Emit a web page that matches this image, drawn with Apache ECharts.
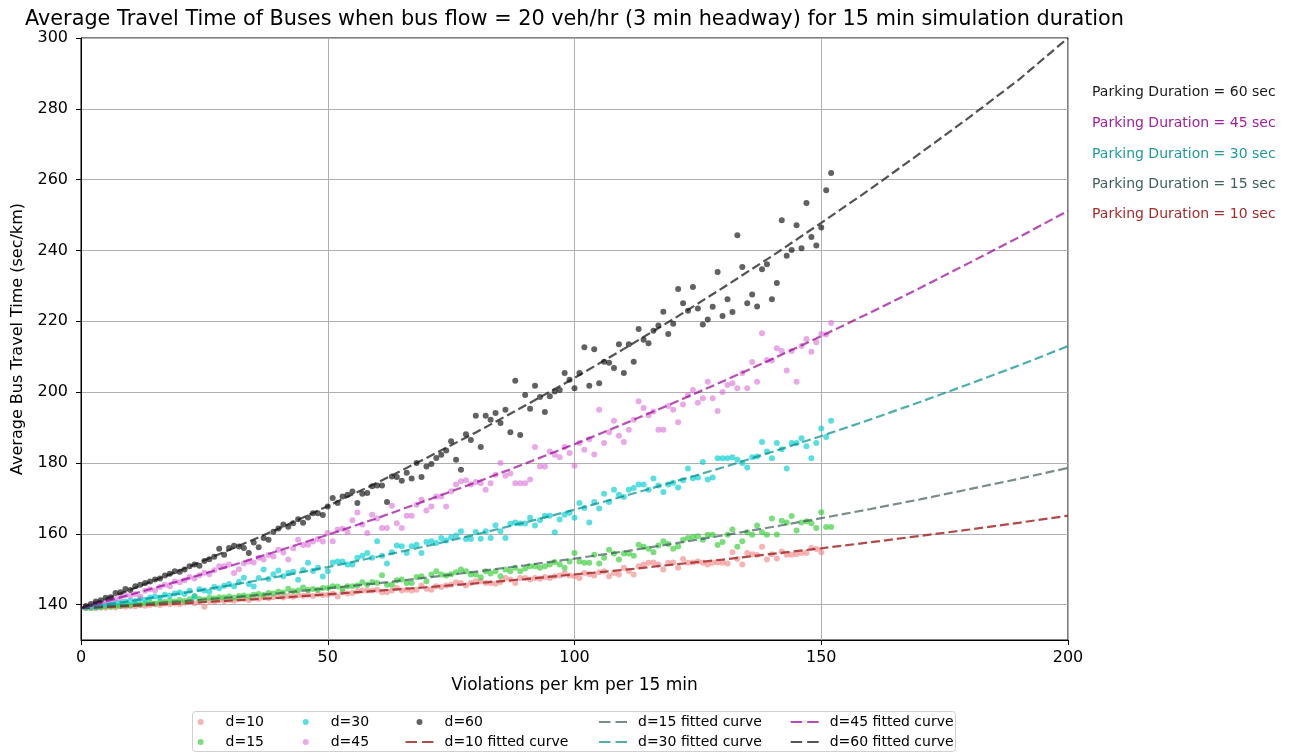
<!DOCTYPE html>
<html>
<head>
<meta charset="utf-8">
<script src="https://cdn.jsdelivr.net/npm/echarts@6/dist/echarts.min.js"></script>
<style>
html,body{margin:0;padding:0;background:#fff;}
#chart{width:1290px;height:753px;}
</style>
</head>
<body>
<div id="chart"></div>
<script>
// ---- data (x = violations per km per 15 min, starting at 1 and stepping by 1) ----
const d10 = [139.0,139.2,139.0,139.3,139.1,139.4,139.2,139.5,139.4,139.6,
139.5,139.8,139.7,139.9,140.1,139.9,140.3,140.1,140.4,140.2,
140.5,140.7,140.4,140.8,139.4,141.0,140.8,141.2,141.0,141.3,
141.1,141.5,141.6,141.3,141.8,141.6,142.0,141.8,142.1,142.3,
142.0,142.4,142.2,142.6,142.5,142.8,142.4,142.9,142.7,142.8,
143.1,142.3,143.5,143.1,143.3,143.8,144.0,144.0,144.0,144.2,
143.5,143.5,144.0,144.7,144.0,144.2,144.0,144.2,145.4,144.5,
144.2,145.2,145.0,145.4,145.6,146.3,146.1,145.4,146.1,146.6,
146.6,146.1,146.1,145.9,146.4,147.5,147.1,146.1,147.5,147.5,
147.1,147.5,147.3,147.8,147.5,148.0,148.2,148.9,148.2,148.0,
147.5,148.9,148.6,148.2,149.1,149.4,148.0,148.9,148.5,150.4,
149.4,148.5,150.8,151.3,151.8,151.9,151.3,149.9,151.8,151.9,
150.4,152.9,151.8,151.9,152.2,151.8,151.3,151.8,151.9,151.8,
151.6,154.8,152.9,151.3,154.6,154.2,154.0,156.3,152.7,154.2,
153.0,155.0,154.1,154.1,154.2,154.6,154.6,156.0,155.7,154.8];

const d15 = [139.1,139.0,139.3,139.2,139.5,139.4,139.7,139.6,139.9,139.8,
140.2,140.0,140.4,140.6,140.3,140.8,140.7,141.1,140.9,141.3,
141.0,141.5,142.4,141.6,141.4,141.9,141.7,142.1,142.0,142.3,
141.9,142.4,142.6,142.3,142.8,143.0,142.7,143.3,143.1,143.6,
143.4,144.5,143.8,144.0,144.8,144.1,144.4,144.2,144.7,144.7,
145.2,145.1,144.4,145.2,145.2,145.4,146.3,145.6,146.4,146.1,
148.3,145.6,145.6,146.9,147.1,146.1,146.1,147.8,148.0,146.6,
148.5,149.4,148.5,148.2,148.6,149.1,149.9,149.4,148.5,148.5,
147.7,149.4,148.8,149.4,148.0,149.9,149.4,150.4,149.4,150.2,
150.8,150.8,150.4,150.8,151.3,152.0,151.3,150.4,152.2,154.6,
152.2,151.8,151.8,154.1,151.6,153.2,155.5,154.4,152.7,154.4,
154.4,153.8,156.9,156.3,155.8,154.8,156.7,157.9,157.1,155.8,
156.4,158.3,158.8,159.1,159.3,158.3,159.7,159.7,156.8,157.7,
159.7,161.2,156.3,157.9,160.4,159.7,162.3,160.4,159.7,164.3,
159.8,163.7,163.2,165.0,160.9,163.2,163.5,163.0,161.6,166.1,
161.9,161.9];

const d30 = [139.2,139.4,139.3,139.8,140.0,140.1,140.6,140.5,140.9,141.1,
141.0,141.6,141.4,142.0,142.3,142.0,142.8,142.5,143.1,143.4,
143.0,143.9,142.2,144.3,144.0,143.6,145.0,144.6,145.3,145.8,
145.2,146.4,147.6,145.8,145.1,147.5,149.9,147.2,148.6,149.6,
148.0,148.9,149.3,147.0,149.8,151.8,149.5,150.4,147.9,149.4,
151.9,152.2,152.2,151.3,151.3,153.2,153.8,154.6,153.2,157.9,
153.8,151.6,154.8,156.7,156.5,154.6,156.5,156.9,154.6,157.7,
157.9,157.4,158.8,158.1,159.0,159.5,160.7,158.5,158.5,160.5,
158.6,160.7,158.8,162.4,160.7,158.8,162.8,163.2,162.9,162.9,
164.5,162.3,163.8,165.1,165.1,160.4,164.0,165.4,165.9,164.5,
168.7,167.3,163.2,169.0,167.1,171.3,169.0,172.4,171.0,170.4,
172.4,172.9,173.9,173.9,172.4,175.6,173.6,171.8,173.9,174.4,
173.1,175.1,178.4,175.7,175.9,180.3,175.3,175.9,181.3,181.3,
181.3,181.6,180.9,180.0,178.7,181.6,181.8,185.9,183.2,181.3,
185.6,183.9,178.4,185.6,185.6,187.0,184.7,181.3,185.6,189.7,
187.3,191.9];

const d45 = [139.4,139.6,140.3,140.4,140.9,141.2,141.6,141.9,142.7,142.4,
143.0,142.3,143.9,144.3,144.0,145.0,145.6,145.2,146.5,146.3,
146.9,147.8,147.4,148.3,149.0,148.6,149.7,150.8,150.8,151.3,
148.9,150.0,151.6,152.2,151.9,153.2,152.7,154.0,153.6,155.5,
154.7,152.7,155.9,158.3,156.8,156.9,157.8,158.5,157.8,160.2,
157.9,161.2,161.4,160.5,163.8,166.0,162.6,160.2,165.4,164.3,
161.6,161.6,167.9,163.0,161.6,165.1,165.1,168.2,169.6,166.6,
167.7,170.5,170.5,167.7,172.0,173.9,174.8,175.1,173.9,174.6,
174.3,172.4,174.3,176.7,180.0,176.4,177.0,174.3,174.3,174.3,
175.3,184.5,179.0,179.0,183.2,182.3,181.6,184.5,182.8,179.2,
185.6,183.7,186.7,182.4,195.0,185.6,188.7,191.9,187.7,185.9,
189.4,192.2,197.4,195.5,193.5,194.5,189.4,189.4,196.1,195.0,
191.5,196.5,199.2,200.6,197.0,198.3,202.9,198.3,194.7,200.0,
202.0,202.5,201.1,205.4,201.1,208.5,202.9,216.6,209.1,208.9,
212.4,211.6,206.1,211.6,202.9,213.0,215.0,211.4,214.1,216.4,
216.3,219.5];

const d60 = [139.6,140.2,140.9,141.2,141.9,142.1,143.3,143.5,144.4,144.1,
145.2,145.6,146.1,146.5,147.1,147.4,148.2,148.7,149.4,149.3,
149.9,150.8,151.3,151.0,152.3,152.8,153.5,155.8,154.1,156.0,
156.6,156.4,156.0,154.6,157.5,156.2,158.8,158.3,160.6,161.5,
162.6,162.0,163.0,164.1,163.1,164.6,165.8,165.8,165.3,167.7,
170.1,168.7,170.5,171.0,171.9,168.7,171.3,171.5,173.4,173.6,
173.6,169.0,176.2,176.0,175.0,177.2,175.6,180.0,176.0,179.0,
179.7,181.4,182.3,183.5,186.1,180.9,178.1,188.1,186.5,193.3,
184.5,193.3,192.2,194.1,191.3,195.0,188.7,203.2,187.9,199.2,
195.3,201.8,198.6,194.4,198.8,200.2,200.6,205.4,203.5,201.1,
205.4,212.7,201.8,212.1,202.5,208.6,208.3,206.8,213.5,205.4,
213.5,208.6,217.8,214.8,213.8,217.3,218.8,222.7,216.4,219.3,
229.1,225.1,223.0,229.7,223.6,219.1,220.5,224.1,233.9,221.5,
226.2,222.6,244.3,235.3,225.1,227.6,224.2,234.7,236.1,226.2,
230.8,248.5,238.5,240.1,247.1,240.6,253.4,243.8,241.4,246.5,
257.0,261.9];

// fitted curves, read at x = 0, 10, ..., 200
const fitX = [0,10,20,30,40,50,60,70,80,90,100,110,120,130,140,150,160,170,180,190,200];
const fit10 = [139.0,139.6,140.3,141.1,141.9,142.9,143.9,144.9,146.0,147.2,148.5,149.8,151.3,152.7,154.3,155.9,157.6,159.4,161.2,163.1,165.1];
const fit15 = [139.0,139.9,140.9,142.0,143.2,144.6,146.0,147.6,149.3,151.1,153.0,155.0,157.2,159.5,161.9,164.4,167.0,169.7,172.6,175.5,178.6];
const fit30 = [139.0,141.0,143.1,145.4,147.9,150.6,153.5,156.5,159.8,163.2,166.8,170.6,174.6,178.7,183.1,187.6,192.3,197.2,202.3,207.5,213.0];
const fit45 = [139.0,142.8,146.7,150.8,155.2,159.7,164.4,169.4,174.5,179.8,185.3,191.0,196.9,203.0,209.3,215.8,222.5,229.4,236.5,243.7,251.2];
const fit60 = [139.0,144.2,149.6,155.4,161.4,167.8,174.4,181.4,188.6,196.2,204.0,212.2,220.6,229.4,238.4,247.8,257.4,267.4,277.6,288.2,300.0];

const yTicks = [140,160,180,200,220,240,260,280,300];
const xTicks = [0,50,100,150,200];
const annotations = ['Parking Duration = 60 sec','Parking Duration = 45 sec','Parking Duration = 30 sec','Parking Duration = 15 sec','Parking Duration = 10 sec'];
const titleText = 'Average Travel Time of Buses when bus flow = 20 veh/hr (3 min headway) for 15 min simulation duration';

// ---- chart ----
const FONT = 'DejaVu Sans';
const chart = echarts.init(document.getElementById('chart'), null, {renderer:'canvas'});

const toPts = arr => arr.map((v,i)=>[i+1, v]);
const fitPts = arr => fitX.map((x,i)=>[x, arr[i]]);

const scatterDefs = [
  {name:'d=10', data:d10, color:'#F08080', op:0.6},
  {name:'d=15', data:d15, color:'#32CD32', op:0.65},
  {name:'d=30', data:d30, color:'#00CED1', op:0.65},
  {name:'d=45', data:d45, color:'#DA70D6', op:0.6},
  {name:'d=60', data:d60, color:'#000000', op:0.62}
];
const lineDefs = [
  {name:'d=10 fitted curve', data:fit10, color:'#A52A2A', op:0.85},
  {name:'d=15 fitted curve', data:fit15, color:'#2F4F4F', op:0.65},
  {name:'d=30 fitted curve', data:fit30, color:'#008B8B', op:0.7},
  {name:'d=45 fitted curve', data:fit45, color:'#990099', op:0.7},
  {name:'d=60 fitted curve', data:fit60, color:'#1a1a1a', op:0.75}
];

const series = [];
scatterDefs.forEach(s=>{
  series.push({
    type:'scatter', name:s.name, data:toPts(s.data), symbol:'circle', symbolSize:6,
    itemStyle:{color:s.color, opacity:s.op}, z:2, silent:true
  });
});
lineDefs.forEach(s=>{
  series.push({
    type:'line', name:s.name, data:fitPts(s.data), showSymbol:false, symbol:'none', smooth:false,
    lineStyle:{color:s.color, opacity:s.op, width:2.2, type:[9,4]},
    itemStyle:{color:s.color, opacity:s.op}, z:3, silent:true
  });
});

const legendBase = {
  orient:'vertical', itemWidth:28, itemHeight:6, itemGap:4, padding:0,
  textStyle:{fontFamily:FONT, fontSize:14, color:'#000', lineHeight:16, padding:[0,0,0,6]},
  lineStyle:{type:[11.5,5]},
  selectedMode:false
};
const lineNames = lineDefs.map(d=>d.name);
const legItem = n => lineNames.indexOf(n) >= 0
  ? {name:n, itemStyle:{color:'rgba(0,0,0,0)', borderWidth:0, opacity:0}}
  : {name:n};
const legendCols = [
  {left:197.6, data:['d=10','d=15']},
  {left:302.7, data:['d=30','d=45']},
  {left:404.5, data:['d=60','d=10 fitted curve']},
  {left:598, data:['d=15 fitted curve','d=30 fitted curve']},
  {left:789.7, data:['d=45 fitted curve','d=60 fitted curve']}
];
const legends = legendCols.map(c=>Object.assign({}, legendBase, {left:c.left, top:714, data:c.data.map(legItem)}));

const annColors = ['#1a1a1a','#a020a0','#1f9a9a','#3f5f5f','#a52a2a'];
const annY = [92,123,154,184,214];
const graphics = [
  {type:'text', x:574.5, y:20, style:{text:titleText, fontFamily:FONT, fontSize:20.8, fill:'#000', align:'center', verticalAlign:'middle'}},
  {type:'rect', shape:{x:192.5, y:711.5, width:763, height:40, r:3}, style:{fill:'#fff', stroke:'#d0d0d0', lineWidth:1}, z:-1}
];
annotations.forEach((t,i)=>{
  graphics.push({type:'text', x:1092, y:annY[i], style:{text:t, fontFamily:FONT, fontSize:14, fill:annColors[i], align:'left', verticalAlign:'middle'}});
});

chart.setOption({
  animation:false,
  backgroundColor:'#fff',
  grid:{left:81, right:222, top:38, bottom:113, show:true, borderColor:'#000', borderWidth:1, backgroundColor:'transparent'},
  xAxis:{
    type:'value', min:0, max:200, interval:50,
    name:'Violations per km per 15 min', nameLocation:'middle', nameGap:37,
    nameTextStyle:{fontFamily:FONT, fontSize:17, color:'#000'},
    axisLine:{show:true, lineStyle:{color:'#000', width:1}},
    axisTick:{show:true, length:5, lineStyle:{color:'#000'}},
    axisLabel:{fontFamily:FONT, fontSize:16, color:'#000', margin:10},
    splitLine:{show:true, lineStyle:{color:'#b0b0b0', width:1}}
  },
  yAxis:{
    type:'value', min:130, max:300,
    name:'Average Bus Travel Time (sec/km)', nameLocation:'middle', nameGap:55,
    nameTextStyle:{fontFamily:FONT, fontSize:16, color:'#000'},
    axisLine:{show:true, lineStyle:{color:'#000', width:1}},
    axisTick:{show:true, length:5, lineStyle:{color:'#000'}, customValues:yTicks},
    axisLabel:{fontFamily:FONT, fontSize:16, color:'#000', margin:13, customValues:yTicks},
    splitLine:{show:true, lineStyle:{color:'#b0b0b0', width:1}}
  },
  legend:legends,
  graphic:graphics,
  series:series
});
</script>
</body>
</html>
